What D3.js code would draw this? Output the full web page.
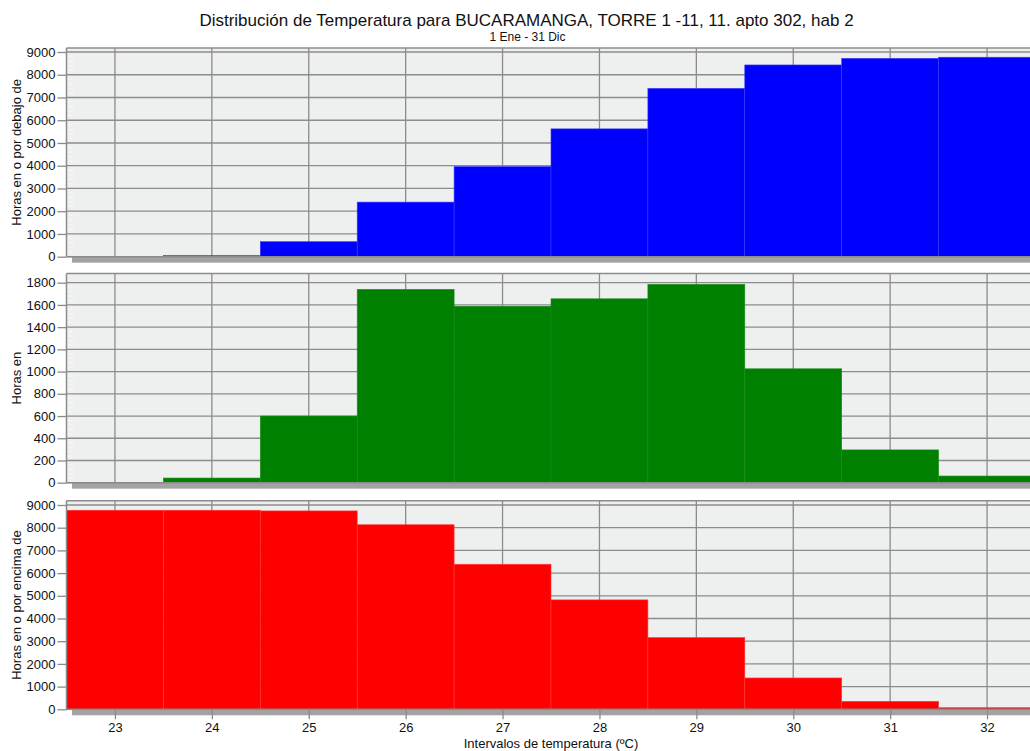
<!DOCTYPE html>
<html><head><meta charset="utf-8">
<script src="https://cdn.jsdelivr.net/npm/d3@7"></script>
<style>html,body{margin:0;padding:0;background:#fff;overflow:hidden}svg{display:block;font-family:"Liberation Sans",Arial,sans-serif}</style>
</head><body><svg id="c" width="1030" height="751"></svg>
<script>
const titleText = "Distribución de Temperatura para BUCARAMANGA, TORRE 1 -11, 11. apto 302, hab 2";
const subtitleText = "1 Ene - 31 Dic";
const xTitle = "Intervalos de temperatura (ºC)";
const bins = [23, 24, 25, 26, 27, 28, 29, 30, 31, 32];
const hoursBelow = [0, 45, 660, 2400, 3960, 5620, 7400, 8430, 8720, 8770];
const hoursIn = [0, 42, 600, 1740, 1588, 1655, 1785, 1025, 295, 60];
const hoursAbove = [8770, 8770, 8740, 8130, 6390, 4820, 3160, 1380, 350, 70];
const yTicksLarge = [0,1000,2000,3000,4000,5000,6000,7000,8000,9000];
const yTicksSmall = [0,200,400,600,800,1000,1200,1400,1600,1800];

const svg = d3.select("#c");
const x = d3.scaleLinear().domain([22.5, 32.5]).range([66.5, 1035.5]);

const panels = [
  {values: hoursBelow, color:"#0000ff", edge:"#3a3aff", ticks:yTicksLarge, max:9000, bottom:256.7, top:52, frame:48, label:"Horas en o por debajo de"},
  {values: hoursIn, color:"#008000", edge:"#1a8c1a", ticks:yTicksSmall, max:1800, bottom:482.7, top:282.7, frame:273.5, label:"Horas en"},
  {values: hoursAbove, color:"#ff0000", edge:"#ff3a3a", ticks:yTicksLarge, max:9000, bottom:709.3, top:505, frame:500.7, label:"Horas en o por encima de"}
];
const grid = "#8c8c8c";

panels.forEach((p, pi) => {
  const y = d3.scaleLinear().domain([0, p.max]).range([p.bottom, p.top]);
  const g = svg.append("g");
  g.append("rect").attr("x", x(22.5)).attr("y", p.frame).attr("width", x(32.5)-x(22.5)).attr("height", p.bottom - p.frame).attr("fill", "#eeefef");
  const minor = d3.range(0, p.max, p.max/45);
  g.selectAll(".mn").data(minor).join("line")
    .attr("x1", x(22.5)+1).attr("x2", x(22.5)+7)
    .attr("y1", d=>y(d)).attr("y2", d=>y(d))
    .attr("stroke", "#f8f8f8").attr("stroke-width", 1);
  g.selectAll(".hg").data(p.ticks).join("line")
    .attr("x1", x(22.5)).attr("x2", x(32.5))
    .attr("y1", d=>y(d)).attr("y2", d=>y(d))
    .attr("stroke", grid).attr("stroke-width", 1.3);
  g.selectAll(".vg").data(bins).join("line")
    .attr("x1", d=>x(d)).attr("x2", d=>x(d))
    .attr("y1", p.frame).attr("y2", p.bottom)
    .attr("stroke", grid).attr("stroke-width", 1.3);
  g.append("line").attr("x1", x(22.5)).attr("x2", x(32.5)).attr("y1", p.frame).attr("y2", p.frame)
    .attr("stroke", grid).attr("stroke-width", 1.5);
  g.selectAll(".bar").data(bins.map((b,i)=>({b, v:p.values[i]})).filter(d=>d.v>0)).join("rect")
    .attr("x", d=>x(d.b-0.5)).attr("width", d=>x(d.b+0.5)-x(d.b-0.5))
    .attr("y", d=>y(d.v)).attr("height", d=>p.bottom - y(d.v))
    .attr("fill", p.color).attr("stroke", p.edge).attr("stroke-width", 0.6);
  g.append("rect").attr("x", x(22.5)+5.5).attr("y", p.bottom).attr("width", x(32.5)-x(22.5)).attr("height", 6)
    .attr("fill", "#a3a3a3");
  g.append("line").attr("x1", x(22.5)).attr("x2", x(32.5)).attr("y1", p.bottom).attr("y2", p.bottom)
    .attr("stroke", "#8a8a8a").attr("stroke-width", 1.5);
  const ax = d3.axisLeft(y).tickValues(p.ticks).tickSize(9).tickPadding(2).tickFormat(d3.format("d"));
  const ag = g.append("g").attr("transform", `translate(${x(22.5)},0)`).call(ax);
  ag.select(".domain").attr("stroke", "#8a8a8a").attr("stroke-width", 1.5)
    .attr("d", `M0,${p.frame}V${p.bottom}`);
  ag.selectAll(".tick line").attr("stroke", "#8a8a8a").attr("stroke-width", 1.3);
  ag.selectAll(".tick text").attr("font-size", 13).attr("fill", "#111").attr("font-family", "Liberation Sans, Arial, sans-serif");
  svg.append("text").attr("transform", `translate(21,${(p.frame+p.bottom)/2}) rotate(-90)`)
    .attr("text-anchor", "middle").attr("font-size", 13).attr("fill", "#111").text(p.label);
  if (pi === 2) {
    const xa = d3.axisBottom(x).tickValues(bins).tickSize(10).tickPadding(3).tickFormat(d3.format("d"));
    const xg = svg.append("g").attr("transform", `translate(0,${p.bottom})`).call(xa);
    xg.select(".domain").remove();
    xg.selectAll(".tick line").attr("stroke", "#8a8a8a").attr("stroke-width", 1.3);
    xg.selectAll(".tick text").attr("font-size", 13).attr("fill", "#111").attr("font-family", "Liberation Sans, Arial, sans-serif");
  }
});

svg.append("text").attr("x", 526.5).attr("y", 25.5).attr("text-anchor", "middle")
  .attr("font-size", 17).attr("fill", "#111").text(titleText);
svg.append("text").attr("x", 527.5).attr("y", 40.5).attr("text-anchor", "middle")
  .attr("font-size", 12).attr("fill", "#111").text(subtitleText);
svg.append("text").attr("x", 551).attr("y", 747.5).attr("text-anchor", "middle")
  .attr("font-size", 13).attr("fill", "#111").text(xTitle);
</script></body></html>
